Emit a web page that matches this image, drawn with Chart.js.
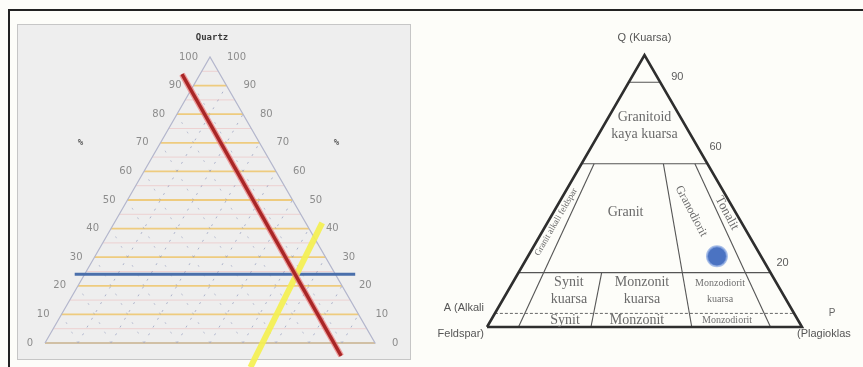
<!DOCTYPE html>
<html>
<head>
<meta charset="utf-8">
<script src="https://cdn.jsdelivr.net/npm/chart.js@4.4.1/dist/chart.umd.min.js"></script>
<style>
  html, body { margin: 0; padding: 0; background: #fdfdf9; }
  #wrap { position: relative; width: 863px; height: 367px; overflow: hidden; }
  #panel { position: absolute; left: 17px; top: 24px; width: 394px; height: 336px;
           background: #eeeeee; border: 1px solid #c6c6c6; box-sizing: border-box; }
  #frameTop { position: absolute; left: 8px; top: 9px; width: 855px; height: 2px; background: #222; }
  #frameLeft { position: absolute; left: 8px; top: 9px; width: 2px; height: 358px; background: #222; }
  canvas { position: absolute; left: 0; top: 0; }
</style>
</head>
<body>
<div id="wrap">
  <div id="panel"></div>
  <div id="frameTop"></div>
  <div id="frameLeft"></div>
  <canvas id="quartzChart" width="863" height="367"></canvas>
  <canvas id="qapChart" width="863" height="367"></canvas>
</div>
<script>
// ---------- Data (percentages; every point is [Q, P], A = 100 - Q - P) ----------

// Left diagram: Quartz ternary grid and a sample reading
const pctTicks   = [0, 10, 20, 30, 40, 50, 60, 70, 80, 90, 100];
const halfSteps  = [5, 15, 25, 35, 45, 55, 65, 75, 85, 95];
const redLine    = [[94, -5.5], [-4.5, 92]];   // constant A ≈ 12
const blueLine   = [[24, -3], [24, 82]];       // Q = 24
const yellowLine = [[-8.5, 66.5], [42, 63]];   // P ≈ 64

// Right diagram: QAP classification
const qBoundaries   = [90, 60, 20];
const qDashed       = 5;
const upperRatios   = [10, 65, 90];  // P/(A+P) boundaries running from Q 60 down to 0
const lowerRatios   = [33];          // P/(A+P) boundary running from Q 20 down to 0
const sampleQ = 26, sampleP = 60;

const fieldNames   = [['Granitoid', 'kaya kuarsa'], 'Granit',
                      ['Synit', 'kuarsa'], ['Monzonit', 'kuarsa'],
                      'Synit', 'Monzonit'];
const fieldCenters = [[74, 13], [42, 23], [13.2, 19.4], [13.2, 42.6], [2.6, 23.5], [2.6, 46.3]];
const smallNames   = [['Monzodiorit', 'kuarsa'], 'Monzodiorit'];
const smallCenters = [[13.2, 67.4], [2.6, 74.9]];
const slantNames   = ['Granit alkali feldspar', 'Granodiorit', 'Tonalit'];
const slantCenters = [[38.6, 2.6], [42.6, 43.5], [41.9, 55.2]];
const rightTicks   = [90, 60, 20];

// ---------- Helpers ----------
const toXY = (q, p) => ({ x: p + q / 2, y: q });

function scalesFor(x0, x1, yBase, yApex) {
  const W = 863, H = 367;
  const xr = 100 * W / (x1 - x0), xmin = -x0 * 100 / (x1 - x0);
  const yr = 100 * H / (yBase - yApex), ymax = yBase * 100 / (yBase - yApex);
  return {
    x: { type: 'linear', display: false, min: xmin, max: xmin + xr },
    y: { type: 'linear', display: false, min: ymax - yr, max: ymax }
  };
}

function lineDs(pts, color, width, order, extra) {
  return Object.assign({
    data: pts.map(([q, p]) => toXY(q, p)),
    showLine: true, borderColor: color, borderWidth: width,
    pointRadius: 0, fill: false, tension: 0, order: order,
    borderCapStyle: 'butt', borderJoinStyle: 'miter'
  }, extra || {});
}

function textPlugin(id, items) {
  return {
    id: id,
    afterDatasetsDraw(chart) {
      const { ctx, scales: { x, y } } = chart;
      for (const it of items) {
        const pt = toXY(it.q, it.p);
        const px = x.getPixelForValue(pt.x) + (it.dx || 0);
        const py = y.getPixelForValue(pt.y) + (it.dy || 0);
        ctx.save();
        ctx.translate(px, py);
        if (it.rot) ctx.rotate(it.rot * Math.PI / 180);
        ctx.font = it.font;
        ctx.fillStyle = it.color;
        ctx.textAlign = it.align || 'center';
        ctx.textBaseline = 'middle';
        const lines = [].concat(it.text);
        const lh = it.lh || 0;
        lines.forEach((s, i) => ctx.fillText(s, 0, (i - (lines.length - 1) / 2) * lh));
        ctx.restore();
      }
    }
  };
}

const baseOptions = (scales) => ({
  responsive: false, animation: false, devicePixelRatio: 1, events: [],
  layout: { padding: 0, autoPadding: false },
  plugins: { legend: { display: false }, tooltip: { enabled: false } },
  scales: scales
});

// ---------- Left: Quartz ternary grid ----------
const leftSets = [];
// faint half-step rows
halfSteps.forEach(v => leftSets.push(lineDs([[v, 0], [v, 100 - v]], 'rgba(236,190,190,0.6)', 1, 20)));
// main 10 % rows
pctTicks.slice(0, 10).forEach(v => leftSets.push(lineDs([[v, 0], [v, 100 - v]], '#eecb7e', 1.8, 19)));
// dashed diagonals in both directions
pctTicks.slice(1, 10).forEach(v => {
  leftSets.push(lineDs([[0, v], [100 - v, v]], 'rgba(130,140,180,0.6)', 1, 18, { borderDash: [2, 7] }));
  leftSets.push(lineDs([[0, 100 - v], [100 - v, 0]], 'rgba(130,140,180,0.45)', 1, 18, { borderDash: [2, 9] }));
});
// triangle outline
leftSets.push(lineDs([[0, 0], [0, 100], [100, 0], [0, 0]], '#b3b6cc', 1.2, 15));
// reading lines
leftSets.push(lineDs(blueLine, '#4a6fab', 3, 4));
leftSets.push(lineDs(yellowLine, 'rgba(244,240,80,0.92)', 6, 3));
leftSets.push(lineDs(redLine, 'rgba(235,120,120,0.7)', 6, 2));
leftSets.push(lineDs(redLine, '#a92626', 3.4, 1));

const tickFont = '10px "DejaVu Sans"';
const leftTexts = [];
pctTicks.forEach(v => {
  leftTexts.push({ text: String(v), q: v, p: 0, dx: -12, align: 'right', font: tickFont, color: '#8c8c8c' });
  leftTexts.push({ text: String(v), q: v, p: 100 - v, dx: 17, align: 'left', font: tickFont, color: '#8c8c8c' });
});
leftTexts.push({ text: 'Quartz', q: 100, p: 0, dx: 2, dy: -19, font: 'bold 9px "DejaVu Sans Mono"', color: '#3a3a3a' });
leftTexts.push({ text: '%', q: 70, p: 0, dx: -80, font: 'bold 9px "DejaVu Sans Mono"', color: '#555' });
leftTexts.push({ text: '%', q: 70, p: 30, dx: 77, font: 'bold 9px "DejaVu Sans Mono"', color: '#555' });

new Chart(document.getElementById('quartzChart'), {
  type: 'scatter',
  data: { datasets: leftSets },
  options: baseOptions(scalesFor(45, 375, 343, 57)),
  plugins: [textPlugin('quartzText', leftTexts)]
});

// ---------- Right: QAP classification ----------
const rightSets = [];
const lineCol = '#555555';
qBoundaries.forEach(v => rightSets.push(lineDs([[v, 0], [v, 100 - v]], lineCol, 1.1, 10)));
rightSets.push(lineDs([[qDashed, 0], [qDashed, 100 - qDashed]], '#666', 1, 10, { borderDash: [3, 2] }));
upperRatios.forEach(r => rightSets.push(lineDs([[60, r * 0.4], [0, r]], lineCol, 1.1, 10)));
lowerRatios.forEach(r => rightSets.push(lineDs([[20, r * 0.8], [0, r]], lineCol, 1.1, 10)));
rightSets.push(lineDs([[0, 0], [0, 100], [100, 0], [0, 0]], '#2e2e2e', 2.6, 5));
rightSets.push({
  data: [toXY(sampleQ, sampleP)], showLine: false, order: 1,
  pointRadius: 10, pointBackgroundColor: '#4b73c2',
  pointBorderColor: 'rgba(140,170,225,0.75)', pointBorderWidth: 2
});

const serif = (s) => s + 'px "Liberation Serif"';
const sans = (s) => s + 'px "Liberation Sans"';
const rightTexts = [];
fieldNames.forEach((n, i) => rightTexts.push({ text: n, q: fieldCenters[i][0], p: fieldCenters[i][1],
  font: serif(14), color: '#6a6a6a', lh: 17 }));
smallNames.forEach((n, i) => rightTexts.push({ text: n, q: smallCenters[i][0], p: smallCenters[i][1],
  font: serif(10), color: '#707070', lh: 16 }));
const slantStyle = [{ rot: -60, size: 9 }, { rot: 62, size: 12 }, { rot: 62, size: 13 }];
slantNames.forEach((n, i) => rightTexts.push({ text: n, q: slantCenters[i][0], p: slantCenters[i][1],
  rot: slantStyle[i].rot, font: serif(slantStyle[i].size), color: '#6a6a6a' }));
const tickOffsets = [[17, -5], [8, -17], [12, -10]];
rightTicks.forEach((v, i) => rightTexts.push({ text: String(v), q: v, p: 100 - v,
  dx: tickOffsets[i][0], dy: tickOffsets[i][1], font: sans(11), color: '#5c5c5c' }));
rightTexts.push({ text: 'Q (Kuarsa)', q: 100, p: 0, dy: -17, font: sans(11), color: '#555' });
rightTexts.push({ text: 'A (Alkali', q: 0, p: 0, dx: -3, dy: -19, align: 'right', font: sans(11), color: '#555' });
rightTexts.push({ text: 'Feldspar)', q: 0, p: 0, dx: -3, dy: 7, align: 'right', font: sans(11), color: '#555' });
rightTexts.push({ text: 'P', q: 0, p: 100, dx: 30, dy: -14, font: sans(10), color: '#666' });
rightTexts.push({ text: '(Plagioklas', q: 0, p: 100, dx: -5, dy: 7, align: 'left', font: sans(11), color: '#555' });

new Chart(document.getElementById('qapChart'), {
  type: 'scatter',
  data: { datasets: rightSets },
  options: baseOptions(scalesFor(487, 802, 327, 55)),
  plugins: [textPlugin('qapText', rightTexts)]
});
</script>
</body>
</html>
